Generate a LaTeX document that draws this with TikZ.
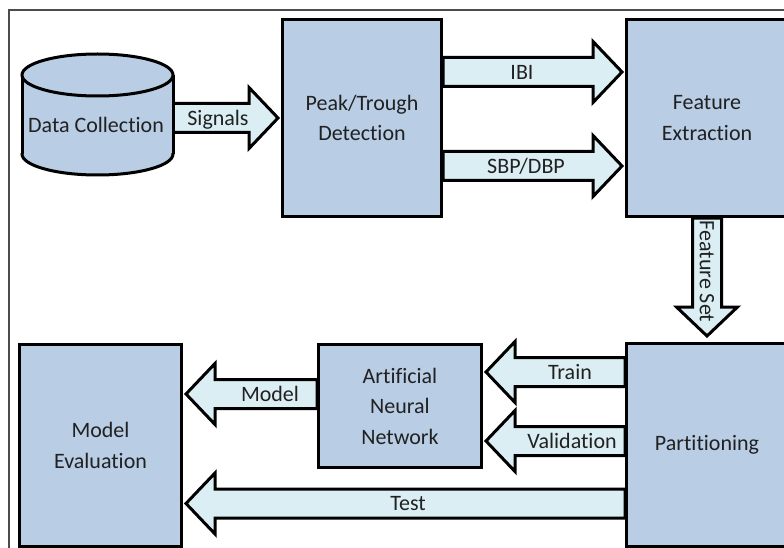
\documentclass[tikz,border=0pt]{standalone}
\usepackage{fontspec}
\setmainfont{Carlito}[Ligatures=NoCommon]
\usetikzlibrary{calc,backgrounds}

\definecolor{boxblue}{RGB}{185,205,229}
\definecolor{arrowaqua}{RGB}{219,238,244}
\definecolor{inkgray}{RGB}{33,33,33}

\tikzset{
  stage/.style={draw=black, fill=boxblue, line width=3pt, inner sep=0pt,
    align=center, text=inkgray, font=\fontsize{22}{30.5}\selectfont},
  arrowbody/.style={draw=black, fill=arrowaqua, line width=3pt, line join=miter},
  flowlabel/.style={text=inkgray, font=\fontsize{22}{26}\selectfont,
    inner sep=0pt, text height=14.1pt, text depth=0pt},
  cylline/.style={draw=black, line width=3pt},
  frameline/.style={draw=black!70, line width=2pt},
}

% Block arrow: #2 name, #3 tail, #4 tip, #5 label, #1 extra label options
\newcommand{\blockarrow}[5][]{%
  \path (#3) coordinate (#2-s) (#4) coordinate (#2-t);
  \path ($(#2-t)!29pt!(#2-s)$) coordinate (#2-j);
  \draw[arrowbody]
    ($(#2-s)!14.5pt!90:(#2-t)$) -- ($(#2-j)!14.5pt!90:(#2-t)$) --
    ($(#2-j)!30.5pt!90:(#2-t)$) -- (#2-t) --
    ($(#2-j)!30.5pt!-90:(#2-t)$) -- ($(#2-j)!14.5pt!-90:(#2-t)$) --
    ($(#2-s)!14.5pt!-90:(#2-t)$) -- cycle;
  \node[flowlabel,#1] (#2) at ($(#2-s)!.5!(#2-j)$) {#5};
}

\begin{document}
\begin{tikzpicture}[x=1pt,y=-1pt]
\useasboundingbox (0,0) rectangle (784,548);
\clip (0,0) rectangle (784,548);

% process boxes
\node[stage, minimum width=159pt, minimum height=197pt] (pt) at (362,118) {Peak/Trough\\Detection};
\node[stage, minimum width=161pt, minimum height=197pt] (fe) at (707,118) {Feature\\Extraction};
\node[stage, minimum width=161pt, minimum height=203pt] (part) at (707,445) {Partitioning};
\node[stage, minimum width=163pt, minimum height=123pt] (ann) at (400,406) {Artificial\\Neural\\Network};
\node[stage, minimum width=162pt, minimum height=202pt] (me) at (100.5,445.5) {Model\\Evaluation};

% data store drawn as a cylinder
\fill[boxblue] (22,75) rectangle (173,154);
\fill[boxblue] (97.5,154) ellipse [x radius=75.5pt, y radius=21pt];
\begin{scope}
  \clip (0,154) rectangle (200,200);
  \draw[cylline] (97.5,154) ellipse [x radius=75.5pt, y radius=21pt];
\end{scope}
\draw[cylline] (22,75) -- (22,154) (173,75) -- (173,154);
\filldraw[cylline, fill=boxblue] (97.5,75) ellipse [x radius=75.5pt, y radius=21pt];
\node[flowlabel] (dc) at (96,125.5) {Data Collection};
\coordinate (dc-side) at (173,118);

\begin{pgfonlayer}{background}
  \draw[frameline] (9,560) -- (9,10) -- (800,10);
  \blockarrow[xshift=7pt]{signals}{dc-side}{$(pt.west)+(-3,0)$}{Signals}
  \blockarrow[xshift=4pt]{ibi}{pt.east |- 0,72}{$(fe.west |- 0,72)+(-3,0)$}{IBI}
  \blockarrow[xshift=8pt]{sbp}{pt.east |- 0,166}{$(fe.west |- 0,166)+(-3,0)$}{SBP/DBP}
  \blockarrow[yshift=-9pt,rotate=-90]{fset}{fe.south}{$(part.north)+(0,-6)$}{Feature Set}
  \blockarrow{train}{part.west |- 0,372}{$(ann.east |- 0,372)+(3,0)$}{Train}
  \blockarrow[xshift=2pt]{valid}{part.west |- 0,441}{$(ann.east |- 0,441)+(3,0)$}{Validation}
  \blockarrow[xshift=4pt]{model}{ann.west |- 0,394}{$(me.east |- 0,394)+(3,0)$}{Model}
  \blockarrow[xshift=-12pt]{test}{part.west |- 0,503.5}{$(me.east |- 0,503.5)+(3,0)$}{Test}
\end{pgfonlayer}
\end{tikzpicture}
\end{document}
